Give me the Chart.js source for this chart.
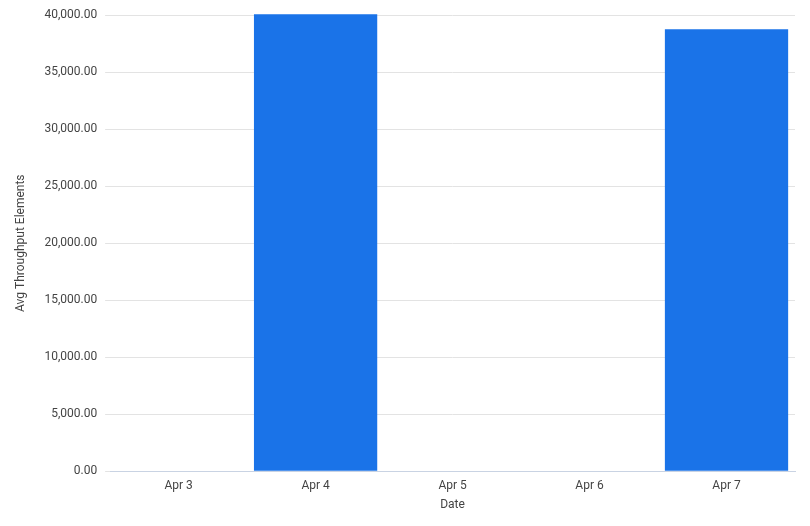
<!DOCTYPE html>
<html>
<head>
<meta charset="utf-8">
<script src="https://cdn.jsdelivr.net/npm/chart.js@4"></script>
<style>
  html, body { margin: 0; padding: 0; background: #fff; }
  #wrap { width: 810px; height: 526px; }
</style>
</head>
<body>
<div id="wrap"><canvas id="chart"></canvas></div>
<script>
// chart data
const dates = ['Apr 3', 'Apr 4', 'Apr 5', 'Apr 6', 'Apr 7'];
const avgThroughput = [0, 40090, 0, 0, 38770];
const yTicks = [0, 5000, 10000, 15000, 20000, 25000, 30000, 35000, 40000];

const textColor = '#444';
const gridColor = '#e3e3e3';

const ctx = document.getElementById('chart').getContext('2d');
const chart = new Chart(ctx, {
    type: 'bar',
    data: {
        labels: dates,
        datasets: [{
            label: 'Avg Throughput Elements',
            data: avgThroughput,
            backgroundColor: '#1a73e8',
            borderWidth: 0,
            barPercentage: 0.9,
            categoryPercentage: 1.0,
            clip: false
        }]
    },
    options: {
        responsive: true,
        maintainAspectRatio: false,
        animation: false,
        layout: { padding: { top: 13, right: 15, bottom: 14, left: 14 } },
        plugins: {
            legend: { display: false },
            tooltip: { enabled: false }
        },
        scales: {
            x: {
                grid: { display: false },
                border: { color: '#c9d3e3', width: 1 },
                ticks: { color: textColor, font: { family: 'Roboto', size: 12 }, padding: 0 },
                title: {
                    display: true, text: 'Date', color: textColor,
                    font: { family: 'Roboto', size: 12 }, padding: { top: 4, bottom: 0 }
                }
            },
            y: {
                min: 0,
                max: 40000,
                afterBuildTicks: (scale) => { scale.ticks = yTicks.map(v => ({ value: v })); },
                grid: { color: gridColor, tickLength: 5, tickColor: gridColor },
                border: { display: false },
                ticks: {
                    color: textColor,
                    font: { family: 'Roboto', size: 12 },
                    padding: 8,
                    callback: (v) => Number(v).toLocaleString('en-US', { minimumFractionDigits: 2, maximumFractionDigits: 2 })
                },
                title: {
                    display: true, text: 'Avg Throughput Elements', color: textColor,
                    font: { family: 'Roboto', size: 12 }, padding: { top: 0, bottom: 8 }
                }
            }
        }
    }
});
</script>
</body>
</html>
